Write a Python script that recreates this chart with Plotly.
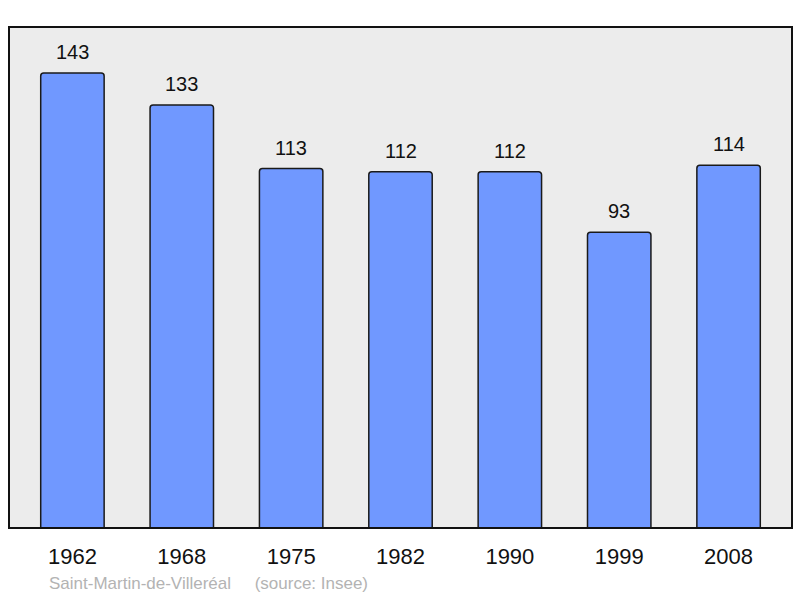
import plotly.graph_objects as go

years = ["1962", "1968", "1975", "1982", "1990", "1999", "2008"]
population = [143, 133, 113, 112, 112, 93, 114]
commune = "Saint-Martin-de-Villeréal"
source = "(source: Insee)"

fig = go.Figure(go.Bar(
    x=years,
    y=population,
    width=0.58,
    marker=dict(color="#7098ff", line=dict(color="#1a1a1a", width=1.5), cornerradius=3),
    hoverinfo="x+y",
))

# value labels above each bar (x given as category index)
for i, val in enumerate(population):
    fig.add_annotation(x=i, y=val, text=str(val), showarrow=False,
                       yanchor="bottom", yshift=8,
                       font=dict(family="Liberation Sans, Arial", size=20, color="#111111"))

fig.add_annotation(xref="paper", yref="paper", x=0.049, y=-0.088,
                   xanchor="left", yanchor="top", showarrow=False,
                   text=commune + "&nbsp;&nbsp;&nbsp;&nbsp;&nbsp;" + source,
                   font=dict(family="Liberation Sans, Arial", size=17, color="#b3b3b3"))

# frame around the plot area
fig.add_shape(type="rect", xref="paper", yref="paper", x0=0, y0=0, x1=1, y1=1,
              line=dict(color="#111111", width=2), layer="above")

fig.update_layout(
    width=800, height=598,
    margin=dict(l=9, r=8, t=27, b=70),
    paper_bgcolor="white",
    plot_bgcolor="#ececec",
    showlegend=False,
    xaxis=dict(type="category", range=[-0.58, 6.58], showgrid=False, zeroline=False,
               ticks="outside", ticklen=9, tickcolor="rgba(0,0,0,0)",
               tickfont=dict(family="Liberation Sans, Arial", size=22, color="#111111")),
    yaxis=dict(range=[0, 157.5], showgrid=False, zeroline=False, showticklabels=False),
)

# no body margin so the figure sits at the top-left of the window
fig.write_html("out.html", config={"displayModeBar": False},
               post_script="document.body.style.margin='0';document.body.style.overflow='hidden';")
